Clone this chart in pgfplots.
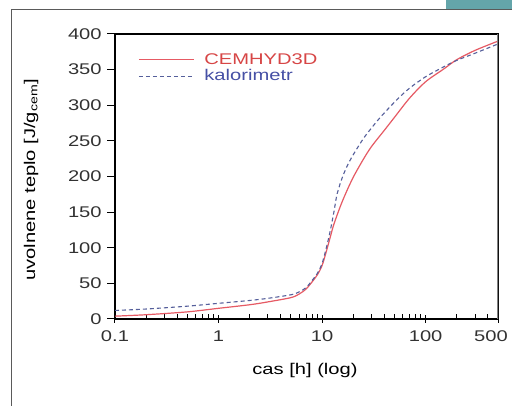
\documentclass[border=0pt]{standalone}
\usepackage{pgfplots}
\pgfplotsset{compat=1.18}
\usepackage{fontspec}
\setmainfont{Liberation Sans}
\usepackage{graphicx}
\definecolor{cemred}{RGB}{230,90,100}
\definecolor{cemtext}{RGB}{215,70,70}
\definecolor{kalblue}{RGB}{85,95,155}
\definecolor{kaltext}{RGB}{70,80,165}
\definecolor{tickgray}{RGB}{50,50,50}
\definecolor{framegray}{RGB}{90,90,90}
\definecolor{frameteal}{RGB}{100,165,170}
\newcommand\wide[1]{\scalebox{1.3}[1]{#1}}
\begin{document}
\fontsize{15.5}{18}\selectfont
\begin{tikzpicture}[x=1pt,y=1pt]
\useasboundingbox (0,0) rectangle (512,406);
\fill[white] (0,0) rectangle (512,406);
\fill[frameteal] (446,397) rectangle (512,406);
\draw[framegray, line width=1pt] (11,0) -- (11,396.5) -- (512,396.5);
\begin{axis}[
  at={(115pt,87pt)}, anchor=south west,
  scale only axis, width=383pt, height=285pt,
  xmode=log, xmin=0.1, xmax=500, ymin=0, ymax=400,
  xtick={0.1,1,10,100,500},
  xticklabels={\wide{0.1},\wide{1},\wide{10},\wide{100},\hspace*{-7pt}\wide{500}\hspace*{7pt}},
  minor xtick={0.2,0.3,0.4,0.5,0.6,0.7,0.8,0.9,2,3,4,5,6,7,8,9,20,30,40,50,60,70,80,90,200,300,400},
  ytick={0,50,100,150,200,250,300,350,400},
  yticklabel={\wide{\pgfmathprintnumber{\tick}}},
  xtick pos=bottom, ytick pos=left,
  xtick align=center, ytick align=outside,
  major tick length=8pt, minor tick length=5pt,
  minor x tick style={yshift=2.5pt},
  tick style={black, line width=1pt},
  axis line style={black, line width=1.6pt},
  /pgf/number format/assume math mode=true,
  tick label style={font=\fontsize{15.5}{18}\selectfont, text=tickgray},
  x tick label style={yshift=-2pt},
  label style={font=\fontsize{15.5}{18}\selectfont, text=tickgray},
  xlabel={\wide{cas [h] (log)}},
  ylabel={\wide{uvolnene teplo [J/g\textsubscript{cem}]}},
  every axis x label/.style={at={(axis description cs:0.496,-0.182)}, anchor=center},
  every axis y label/.style={at={(axis description cs:-0.219,0.488)}, anchor=center, rotate=90},
  legend style={draw=none, fill=none, at={(axis description cs:0,1)}, anchor=north west,
    xshift=20pt, yshift=-15pt, font=\fontsize{15.5}{18}\selectfont, row sep=-1pt,
    column sep=8pt, cells={anchor=west}},
  legend image code/.code={\draw[#1] (0pt,0pt) -- (55pt,0pt);},
]
\addplot[cemred, line width=1.2pt, smooth] coordinates {
(0.1,4) (0.2,6) (0.5,10) (1,15) (2,20) (3,24) (5,30) (6,35) (7,42) (8,52) (9,62)
(10,75) (11,95) (12,115) (13,133) (15,158) (17,177) (20,199) (25,224) (30,242)
(40,265) (50,283) (70,310) (100,333) (150,351) (200,364) (300,377) (500,390)};
\addlegendentry{\textcolor{cemtext}{\wide{CEMHYD3D}}}
\addplot[kalblue, line width=1.1pt, dash pattern=on 4pt off 3pt, smooth] coordinates {
(0.1,12) (0.2,14) (0.5,18) (1,22) (2,26) (3,29) (5,34) (6,38) (7,44) (8,54) (9,64)
(10,78) (11,100) (12,124) (13,150) (14,176) (16,202) (19,225) (25,253) (30,268) (37,284)
(53,308) (70,324) (100,340) (150,354) (200,363) (300,373) (500,386)};
\addlegendentry{\textcolor{kaltext}{\wide{kalorimetr}}}
\draw[gray, line width=3pt] (axis description cs:1,0) -- (axis description cs:1,1);
\end{axis}
\end{tikzpicture}
\end{document}
